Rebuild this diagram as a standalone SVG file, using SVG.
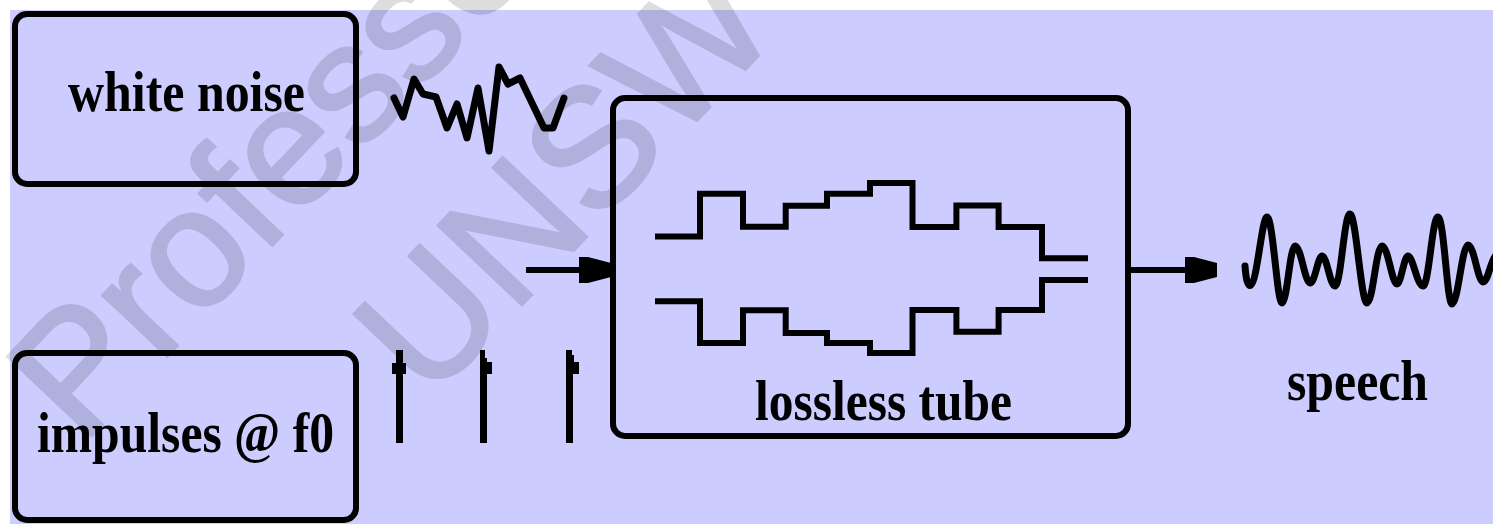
<svg xmlns="http://www.w3.org/2000/svg" width="1493" height="524" viewBox="0 0 1493 524">
  <style>
    .box { fill: none; stroke: #000; stroke-width: 6; }
    .ln { fill: none; stroke: #000; stroke-width: 6; stroke-linecap: butt; stroke-linejoin: miter; }
    .wave { fill: none; stroke: #000; stroke-width: 7; stroke-linecap: round; stroke-linejoin: round; }
    .lbl { font-family: "Liberation Serif", "Times New Roman", serif; font-weight: bold; font-size: 58px; fill: #000; }
    .wm { font-family: "Liberation Sans", Arial, sans-serif; font-size: 168px; fill: #000; stroke: #000; stroke-width: 3; }
  </style>
  <defs>
    <marker id="head" markerUnits="userSpaceOnUse" markerWidth="34" markerHeight="26" refX="32" refY="13" orient="auto">
      <path d="M0,0 L9,0 L32,6 L32,20 L9,26 L0,26 Z" fill="#000"/>
    </marker>
  </defs>

  <rect x="0" y="0" width="1493" height="524" fill="#ffffff"/>
  <rect x="10" y="10" width="1483" height="514" fill="#ccccff"/>

  <g id="watermark" opacity="0.13" transform="translate(82,446) rotate(-46.5)">
    <text class="wm" x="0" y="0">Professor</text>
    <text class="wm" x="270" y="222">UNSW</text>
  </g>

  <g id="white-noise">
    <rect class="box" x="15" y="14" width="341" height="170" rx="12"/>
    <text class="lbl" x="68" y="111" textLength="237" lengthAdjust="spacingAndGlyphs">white noise</text>
    <polyline class="wave" points="394,98 403,117 414,79 423,94 436,97 447,128 457,104 467,138 478,88 489,151 499,67 508,84 520,78 544,128 553,128 564,98"/>
  </g>

  <g id="impulses">
    <rect class="box" x="15" y="353" width="341" height="167" rx="12"/>
    <text class="lbl" x="37" y="452" textLength="297" lengthAdjust="spacingAndGlyphs">impulses @ f0</text>
    <g id="impulse-train" fill="#000">
      <path d="M396,350 H403 V363 H406 V374 H403 V443 H396 V374 H392 V363 H396 Z"/>
      <path d="M480,350 H485 V358 H487 V362 H492 V374 H487 V443 H480 Z"/>
      <path d="M566,350 H572 V355 H574 V362 H579 V374 H573 V443 H566 Z"/>
    </g>
  </g>

  <g id="lossless-tube">
    <rect class="box" x="613" y="98" width="515" height="338" rx="12"/>
    <path class="ln" d="M655,236.5 H700 V193.7 H743 V226.7 H785.7 V205.7 H827 V193.7 H870 V183 H912.5 V227 H956.4 V205.5 H998.6 V227 H1042 V258.3 H1088"/>
    <path class="ln" d="M655,301.3 H700 V343 H743 V310.3 H785.7 V333 H827 V343 H870 V353 H912.5 V310 H956.4 V331.7 H998.6 V310 H1042 V280 H1088"/>
    <text class="lbl" x="755" y="420" textLength="257" lengthAdjust="spacingAndGlyphs">lossless tube</text>
  </g>

  <g id="speech">
    <path class="wave" d="M1245,266 C1246,280 1248,287 1251,285 C1257,282 1262,217 1267,217 C1273,217 1277,303 1282,303 C1287,303 1290,246 1295,246 C1301,246 1305,283 1310,283 C1315,283 1318,256 1322,256 C1327,256 1330,286 1335,286 C1341,286 1344,214 1350,214 C1356,214 1361,303 1367,303 C1373,303 1376,246 1382,246 C1388,246 1392,284 1397,284 C1401,284 1404,256 1408,256 C1413,256 1417,286 1423,286 C1429,286 1432,217 1438,217 C1444,217 1447,304 1452,304 C1458,304 1462,245 1468,245 C1474,245 1478,282 1483,282 C1488,282 1490,262 1496,255"/>
    <text class="lbl" x="1287" y="400" textLength="141" lengthAdjust="spacingAndGlyphs">speech</text>
  </g>

  <g id="connectors">
    <line class="ln" x1="526" y1="270" x2="611" y2="270" marker-end="url(#head)"/>
    <line class="ln" x1="1131" y1="270" x2="1217" y2="270" marker-end="url(#head)"/>
  </g>
</svg>
